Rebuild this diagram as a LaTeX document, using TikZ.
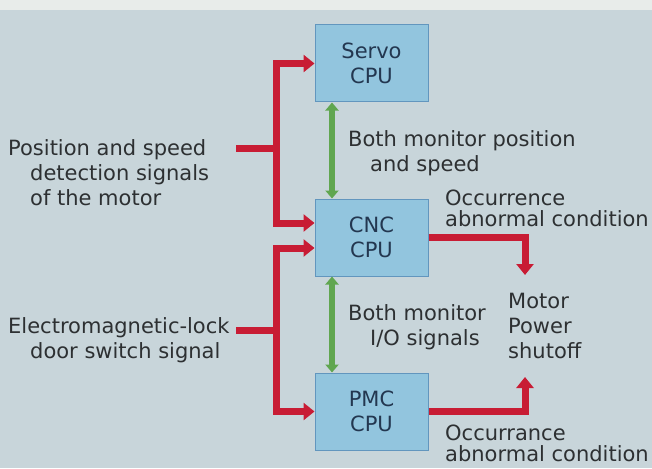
\documentclass[tikz,border=0pt]{standalone}
\usepackage{fontspec}
\setmainfont{DejaVu Sans}
\usetikzlibrary{arrows.meta,calc}
\definecolor{bg}{RGB}{200,213,218}
\definecolor{topstrip}{RGB}{232,236,234}
\definecolor{boxfill}{RGB}{146,197,222}
\definecolor{boxline}{RGB}{98,150,190}
\definecolor{boxtext}{RGB}{35,55,80}
\definecolor{txt}{RGB}{45,48,50}
\definecolor{sigred}{RGB}{200,28,52}
\definecolor{mongreen}{RGB}{96,166,80}
\begin{document}
\begin{tikzpicture}[x=1pt,y=-1pt,
  cpu/.style={draw=boxline,line width=1pt,fill=boxfill,minimum width=113pt,minimum height=77pt,
    inner sep=0pt,align=center,font=\fontsize{21}{25}\selectfont,text=boxtext},
  lbl/.style={anchor=base west,inner sep=0pt,text=txt,font=\fontsize{21}{25}\selectfont},
  lbltight/.style={anchor=base west,inner sep=0pt,text=txt,font=\fontsize{21}{19}\selectfont},
  redline/.style={draw=sigred,line width=7pt},
  redarrow/.style={draw=sigred,line width=7pt,-{Triangle[length=11pt,width=17pt]}},
  greenarrow/.style={draw=mongreen,line width=5.5pt,{Triangle[length=8pt,width=13pt]}-{Triangle[length=8pt,width=13pt]}}]
\fill[bg] (0,0) rectangle (652,468);
\fill[topstrip] (0,0) rectangle (652,10);
\useasboundingbox (0,0) rectangle (652,468);

% CPU boxes
\node[cpu] (servo) at (371.5,63.5) {Servo\\CPU};
\node[cpu] (cnc) at (371.5,237.5) {CNC\\CPU};
\node[cpu] (pmc) at (371.5,411.5) {PMC\\CPU};

% labels
\node[lbl] (pos) at (8,155) {\begin{tabular}[t]{@{}l@{}}Position and speed\\\hspace*{22pt}detection signals\\\hspace*{22pt}of the motor\end{tabular}};
\node[lbl] (door) at (8,333) {\begin{tabular}[t]{@{}l@{}}Electromagnetic-lock\\\hspace*{22pt}door switch signal\end{tabular}};
\node[lbl] (mon1) at (348,146) {\begin{tabular}[t]{@{}l@{}}Both monitor position\\\hspace*{22pt}and speed\end{tabular}};
\node[lbl] (mon2) at (348,320) {\begin{tabular}[t]{@{}l@{}}Both monitor\\\hspace*{22pt}I/O signals\end{tabular}};
\node[lbl] (motor) at (508,308) {\begin{tabular}[t]{@{}l@{}}Motor\\Power\\shutoff\end{tabular}};
\node[lbltight] (occ1) at (445,205) {\begin{tabular}[t]{@{}l@{}}Occurrence\\abnormal condition\end{tabular}};
\node[lbltight] (occ2) at (445,440) {\begin{tabular}[t]{@{}l@{}}Occurrance\\abnormal condition\end{tabular}};

% junction coordinates
\coordinate (in1) at (236,148);
\coordinate (j1) at (276,148);
\coordinate (in2) at (236,330);
\coordinate (j2) at (276,330);
\coordinate (mtop) at (525,275);
\coordinate (mbot) at (525,377);
\coordinate (gx) at (332,0);

% red signal lines
\draw[redline] (in1) -- (j1);
\draw[redarrow] (j1) |- (servo.west);
\draw[redarrow] (j1) |- ($(cnc.west)+(0,-14.5)$);
\draw[redline] (in2) -- (j2);
\draw[redarrow] (j2) |- ($(cnc.west)+(0,10.5)$);
\draw[redarrow] (j2) |- (pmc.west);
\draw[redarrow] (cnc.east) -| (mtop);
\draw[redarrow] (pmc.east) -| (mbot);

% green monitoring arrows
\draw[greenarrow] (gx |- servo.south) -- (gx |- cnc.north);
\draw[greenarrow] (gx |- cnc.south) -- (gx |- pmc.north);
\end{tikzpicture}
\end{document}
